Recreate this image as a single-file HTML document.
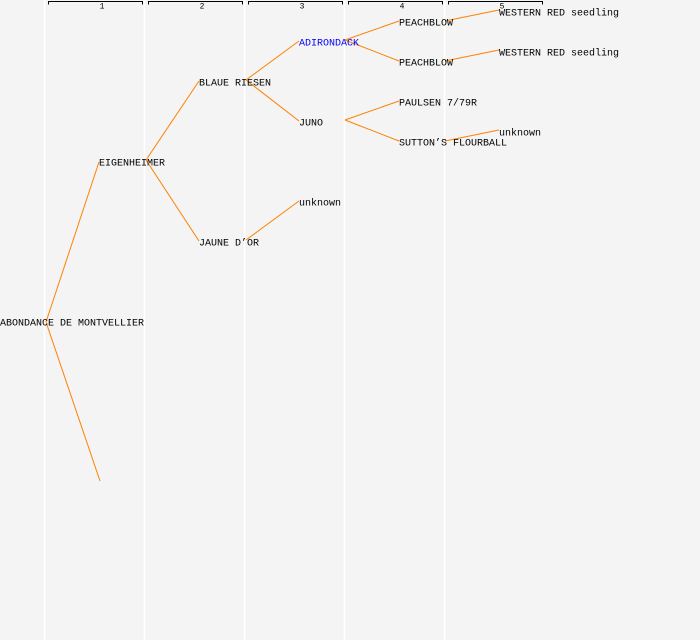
<!DOCTYPE html>
<html><head><meta charset="utf-8"><style>
html,body{margin:0;padding:0;background:#f4f4f4;}
svg{display:block;}
text{font-family:"Liberation Mono",monospace;font-size:10px;fill:#000;dominant-baseline:central;}
</style></head><body>
<svg width="700" height="640" viewBox="0 0 700 640" xmlns="http://www.w3.org/2000/svg">
<rect width="700" height="640" fill="#f4f4f4"/>
<g stroke="#ffffff" stroke-width="1.5">
<line x1="44.5" y1="0" x2="44.5" y2="640"/>
<line x1="144.5" y1="0" x2="144.5" y2="640"/>
<line x1="244.5" y1="0" x2="244.5" y2="640"/>
<line x1="344.5" y1="0" x2="344.5" y2="640"/>
<line x1="444.5" y1="0" x2="444.5" y2="640"/>
</g>
<g stroke="#000" stroke-width="1" fill="none">
<path d="M48.5 4.5V1.5H142.5V4.5"/>
<path d="M148.5 4.5V1.5H242.5V4.5"/>
<path d="M248.5 4.5V1.5H342.5V4.5"/>
<path d="M348.5 4.5V1.5H442.5V4.5"/>
<path d="M448.5 4.5V1.5H542.5V4.5"/>
</g>
<g text-anchor="middle">
<text x="102" y="7" style="font-size:8px">1</text>
<text x="202" y="7" style="font-size:8px">2</text>
<text x="302" y="7" style="font-size:8px">3</text>
<text x="402" y="7" style="font-size:8px">4</text>
<text x="502" y="7" style="font-size:8px">5</text>
</g>
<g stroke="#ff8000" stroke-width="1" fill="none">
<line x1="46" y1="322" x2="99" y2="162"/>
<line x1="46" y1="322" x2="100" y2="481"/>
<line x1="146" y1="160" x2="199" y2="81"/>
<line x1="146" y1="160" x2="199" y2="241"/>
<line x1="246" y1="80" x2="299" y2="41"/>
<line x1="246" y1="80" x2="299" y2="121"/>
<line x1="246" y1="240" x2="299" y2="201"/>
<line x1="345" y1="40" x2="399" y2="21"/>
<line x1="345" y1="40" x2="399" y2="61"/>
<line x1="345" y1="120" x2="399" y2="101"/>
<line x1="345" y1="120" x2="399" y2="141"/>
<line x1="445" y1="21" x2="499" y2="10"/>
<line x1="445" y1="61" x2="499" y2="50"/>
<line x1="445" y1="141" x2="499" y2="130"/>
</g>
<text x="0" y="324">ABONDANCE DE MONTVELLIER</text>
<text x="99" y="164">EIGENHEIMER</text>
<text x="199" y="84">BLAUE RIESEN</text>
<text x="199" y="244">JAUNE D’OR</text>
<text x="299" y="44" style="fill:#0000ff">ADIRONDACK</text>
<text x="299" y="124">JUNO</text>
<text x="299" y="204">unknown</text>
<text x="399" y="24">PEACHBLOW</text>
<text x="399" y="64">PEACHBLOW</text>
<text x="399" y="104">PAULSEN 7/79R</text>
<text x="399" y="144">SUTTON’S FLOURBALL</text>
<text x="499" y="14">WESTERN RED seedling</text>
<text x="499" y="54">WESTERN RED seedling</text>
<text x="499" y="134">unknown</text>
</svg>
</body></html>
